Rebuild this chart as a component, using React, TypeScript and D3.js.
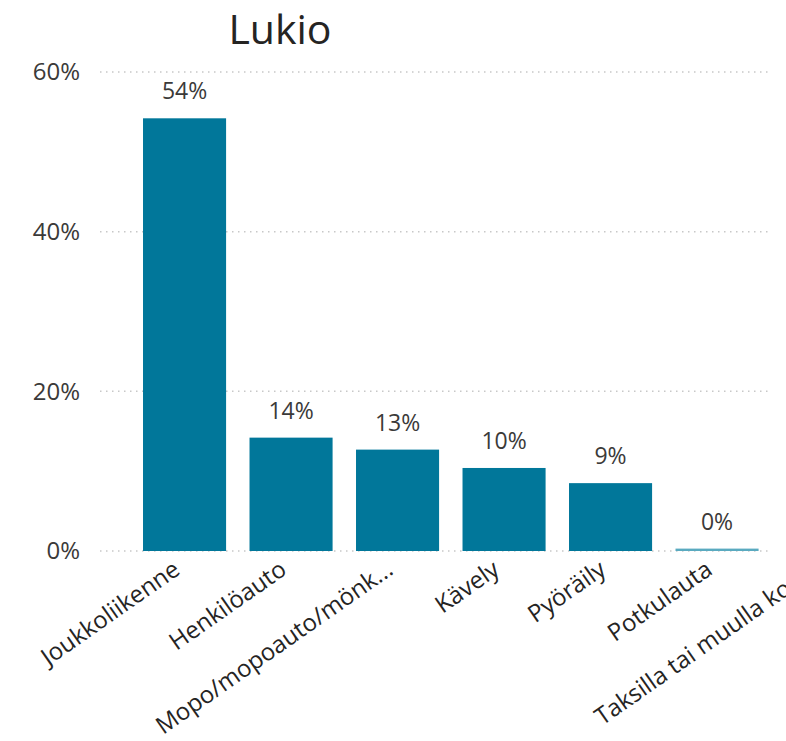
import React, { useEffect, useRef } from 'react';
import * as d3 from 'd3';

// Kulkutapa kouluun, lukio (% vastaajista)
const title = 'Lukio';
const categories = [
  'Joukkoliikenne',
  'Henkilöauto',
  'Mopo/mopoauto/mönk...',
  'Kävely',
  'Pyöräily',
  'Potkulauta',
  'Taksilla tai muulla kou...',
];
const values = [54.2, 14.2, 12.7, 10.4, 8.5, 0.3, 0];
const valueLabels = ['54%', '14%', '13%', '10%', '9%', '0%', '0%'];
const yTicks = [0, 20, 40, 60];

const WIDTH = 786;
const HEIGHT = 741;
const FONT = '"Segoe UI", "Open Sans", "Noto Sans", sans-serif';

export default function App() {
  const ref = useRef<SVGSVGElement | null>(null);

  useEffect(() => {
    if (!ref.current) return;
    const svg = d3.select(ref.current);
    svg.selectAll('*').remove();

    const plotLeft = 100;
    const plotRight = 768; // visible part of the plot, rest is scrolled off
    const y0 = 551;
    const y1 = 72;

    const x = d3.scaleBand<string>()
      .domain(categories)
      .range([131.3, 131.3 + 7 * 106.5])
      .paddingInner(0.22)
      .paddingOuter(0.11);

    const y = d3.scaleLinear().domain([0, 60]).range([y0, y1]);

    svg.append('defs')
      .append('clipPath')
      .attr('id', 'plot-clip')
      .append('rect')
      .attr('x', plotLeft)
      .attr('y', 0)
      .attr('width', plotRight - plotLeft)
      .attr('height', HEIGHT);

    // title
    svg.append('text')
      .attr('x', 280)
      .attr('y', 44)
      .attr('text-anchor', 'middle')
      .attr('font-size', 41)
      .attr('fill', '#252423')
      .text(title);

    // gridlines
    const plot = svg.append('g').attr('clip-path', 'url(#plot-clip)');
    plot.selectAll('.grid')
      .data(yTicks)
      .enter()
      .append('line')
      .attr('x1', plotLeft)
      .attr('x2', plotRight)
      .attr('y1', d => y(d))
      .attr('y2', d => y(d))
      .attr('stroke', '#c8c8c8')
      .attr('stroke-width', 1.5)
      .attr('stroke-dasharray', '1.5,4.5');

    // y tick labels
    svg.selectAll('.ytick')
      .data(yTicks)
      .enter()
      .append('text')
      .attr('x', 80)
      .attr('y', d => y(d))
      .attr('dy', '0.35em')
      .attr('text-anchor', 'end')
      .attr('font-size', 24)
      .attr('fill', '#3b3a39')
      .text(d => `${d}%`);

    // bars
    plot.selectAll('.bar')
      .data(categories)
      .enter()
      .append('rect')
      .attr('x', d => x(d)!)
      .attr('width', x.bandwidth())
      .attr('y', (_, i) => y(values[i]))
      .attr('height', (_, i) => Math.max(0, y0 - y(values[i])))
      .attr('fill', (_, i) => (values[i] < 1 ? '#5aaac0' : '#01779a'));

    // value labels
    plot.selectAll('.vlabel')
      .data(categories)
      .enter()
      .append('text')
      .attr('x', d => x(d)! + x.bandwidth() / 2)
      .attr('y', (_, i) => y(values[i]) - 19)
      .attr('text-anchor', 'middle')
      .attr('font-size', 23)
      .attr('fill', '#3b3a39')
      .text((_, i) => valueLabels[i]);

    // category labels
    svg.selectAll('.xlabel')
      .data(categories)
      .enter()
      .append('text')
      .attr('transform', d => `translate(${x(d)! + x.bandwidth() / 2 - 3},573) rotate(-35)`)
      .attr('text-anchor', 'end')
      .attr('font-size', 24)
      .attr('fill', '#252423')
      .text(d => d);
  }, []);

  return (
    <svg
      ref={ref}
      width={WIDTH}
      height={HEIGHT}
      style={{ position: 'absolute', left: 0, top: 0, background: '#fff', fontFamily: FONT }}
    />
  );
}
